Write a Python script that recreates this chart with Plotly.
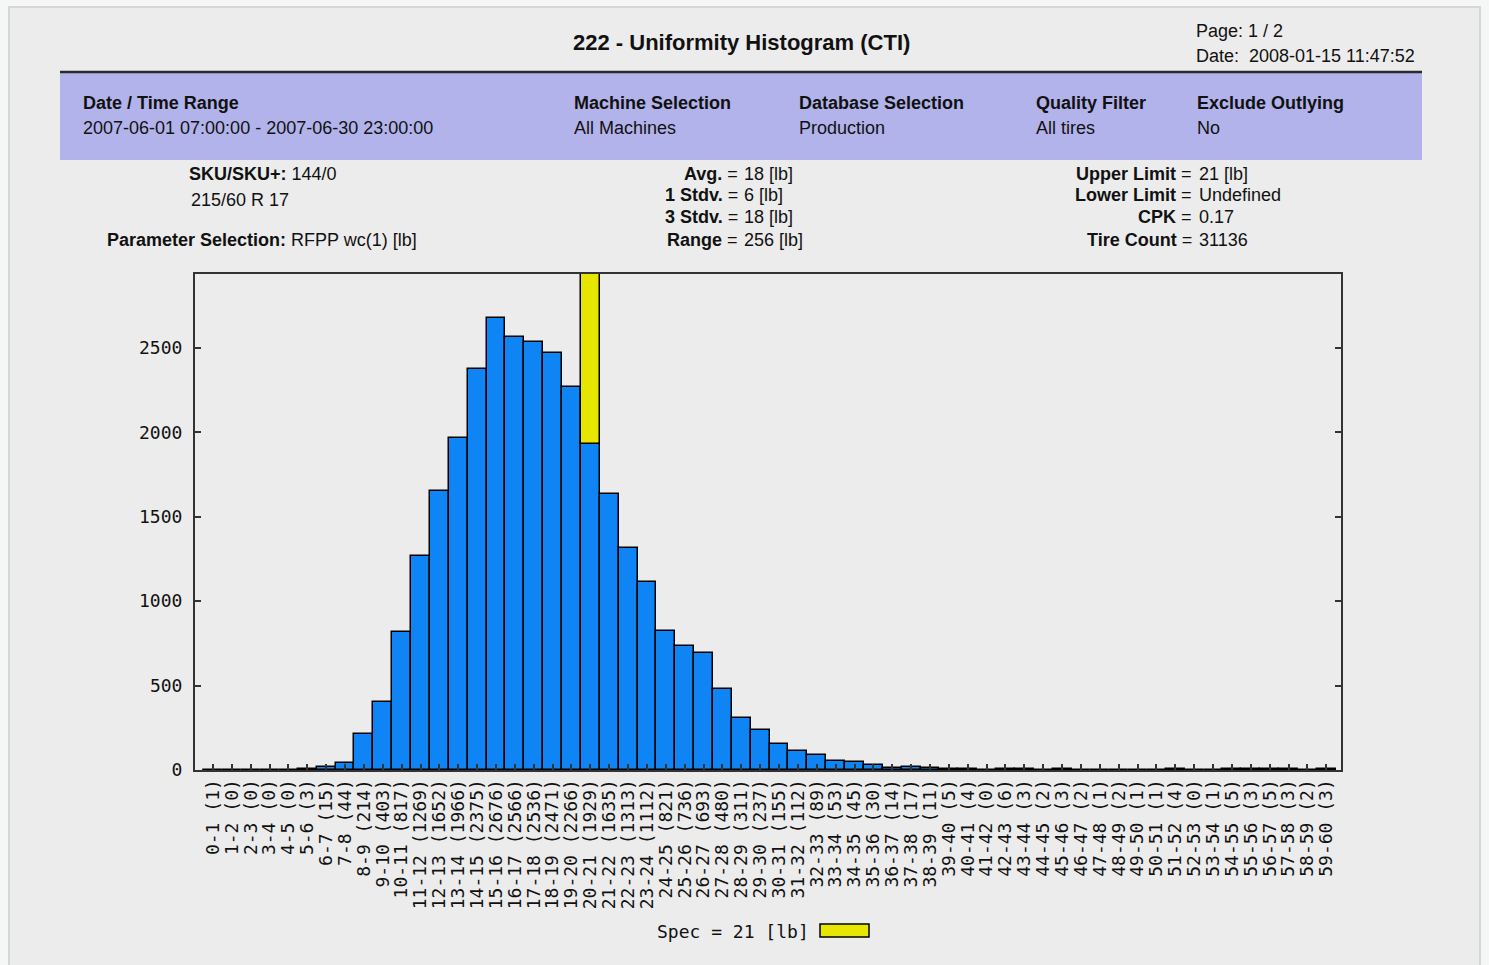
import plotly.graph_objects as go

# ---------------- data ----------------
bin_labels = ["0-1", "1-2", "2-3", "3-4", "4-5", "5-6", "6-7", "7-8", "8-9", "9-10",
              "10-11", "11-12", "12-13", "13-14", "14-15", "15-16", "16-17", "17-18", "18-19", "19-20",
              "20-21", "21-22", "22-23", "23-24", "24-25", "25-26", "26-27", "27-28", "28-29", "29-30",
              "30-31", "31-32", "32-33", "33-34", "34-35", "35-36", "36-37", "37-38", "38-39", "39-40",
              "40-41", "41-42", "42-43", "43-44", "44-45", "45-46", "46-47", "47-48", "48-49", "49-50",
              "50-51", "51-52", "52-53", "53-54", "54-55", "55-56", "56-57", "57-58", "58-59", "59-60"]
counts = [1, 0, 0, 0, 0, 3, 15, 44, 214, 403,
          817, 1269, 1652, 1966, 2375, 2676, 2566, 2536, 2471, 2266,
          1929, 1635, 1313, 1112, 821, 736, 693, 480, 311, 237,
          155, 112, 89, 53, 45, 30, 14, 17, 11, 5,
          4, 0, 6, 3, 2, 3, 2, 1, 2, 1,
          1, 4, 0, 1, 5, 3, 5, 3, 2, 3]
spec_limit = 21           # upper limit [lb]
y_ticks = [0, 500, 1000, 1500, 2000, 2500]
y_max = 2938

categories = [f"{b} ({c})" for b, c in zip(bin_labels, counts)]
spec_idx = spec_limit - 1  # bin "20-21"

# ---------------- geometry helpers (pixel -> paper) ----------------
W, H = 1489, 965
ML, MR, MT, MB = 195, 148, 274, 195
PW, PH = W - ML - MR, H - MT - MB


def px(x):
    return (x - ML) / PW


def py(y):
    return (H - MB - y) / PH


BLUE = "#0F84F4"
YELLOW = "#E6E600"
SANS = "Liberation Sans, Arial, sans-serif"
MONO = "DejaVu Sans Mono, monospace"

fig = go.Figure()
fig.add_trace(go.Bar(
    x=categories, y=counts,
    marker=dict(color=BLUE, line=dict(color="#000000", width=1.5)),
    showlegend=False, hoverinfo="x+y"))
fig.add_trace(go.Bar(
    x=[categories[spec_idx]], y=[y_max - counts[spec_idx]], base=[counts[spec_idx]],
    marker=dict(color=YELLOW, line=dict(color="#000000", width=1.5)),
    showlegend=False, name=f"Spec = {spec_limit} [lb]"))

shapes = [
    # page
    dict(type="rect", xref="paper", yref="paper", x0=px(9), x1=px(1480), y0=py(7), y1=py(980),
         fillcolor="#ECECEC", line=dict(color="#D6D6D6", width=2), layer="below"),
    # header line + lavender box
    dict(type="rect", xref="paper", yref="paper", x0=px(60), x1=px(1422), y0=py(73), y1=py(160),
         fillcolor="#B3B3EC", line=dict(width=0), layer="below"),
    dict(type="line", xref="paper", yref="paper", x0=px(60), x1=px(1422), y0=py(72), y1=py(72),
         line=dict(color="#2A2A2A", width=2.5)),
    # legend swatch
    dict(type="rect", xref="paper", yref="paper", x0=px(820), x1=px(869), y0=py(924), y1=py(937),
         fillcolor=YELLOW, line=dict(color="#000000", width=1.5)),
]

ann = []


def txt(x, y, s, size=18, anchor="left", font=SANS):
    ann.append(dict(x=px(x), y=py(y), xref="paper", yref="paper", text=s, showarrow=False,
                    xanchor=anchor, yanchor="middle",
                    font=dict(family=font, size=size, color="#111111")))


txt(741, 43, "<b>222 - Uniformity Histogram (CTI)</b>", size=22, anchor="center")
txt(1194, 31, "Page: 1 / 2")
txt(1194, 56, "Date:  2008-01-15 11:47:52")

# box contents
box_cols = [(81, "Date / Time Range", "2007-06-01 07:00:00 - 2007-06-30 23:00:00"),
            (572, "Machine Selection", "All Machines"),
            (797, "Database Selection", "Production"),
            (1034, "Quality Filter", "All tires"),
            (1195, "Exclude Outlying", "No")]
for x, head, val in box_cols:
    txt(x, 103, f"<b>{head}</b>")
    txt(x, 128, val)

# left stats
txt(187, 174, "<b>SKU/SKU+:</b> 144/0")
txt(189, 200, "215/60 R 17")
txt(105, 240, "<b>Parameter Selection:</b> RFPP wc(1) [lb]")

# middle stats
mid = [(174, "Avg.", "18 [lb]"), (195, "1 Stdv.", "6 [lb]"),
       (217, "3 Stdv.", "18 [lb]"), (240, "Range", "256 [lb]")]
for y, lab, val in mid:
    txt(740, y, f"<b>{lab}</b> =", anchor="right")
    txt(742, y, val)

# right stats
right = [(174, "Upper Limit", "21 [lb]"), (195, "Lower Limit", "Undefined"),
         (217, "CPK", "0.17"), (240, "Tire Count", "31136")]
for y, lab, val in right:
    txt(1194, y, f"<b>{lab}</b> =", anchor="right")
    txt(1197, y, val)

# legend text
txt(655, 931, f"Spec = {spec_limit} [lb]", size=18, font=MONO)

fig.update_layout(
    width=W, height=H,
    margin=dict(l=ML, r=MR, t=MT, b=MB, pad=0),
    paper_bgcolor="#F5F6F6", plot_bgcolor="#FFFFFF",
    barmode="overlay", bargap=0,
    shapes=shapes, annotations=ann,
    showlegend=False,
    xaxis=dict(type="category", range=[-0.95, 59.78], tickangle=-90,
               tickmode="array", tickvals=categories, ticktext=categories,
               ticks="inside", ticklen=6, tickwidth=1.5, tickcolor="#333333",
               showline=True, linecolor="#333333", linewidth=2, mirror=True,
               showgrid=False, zeroline=False, ticklabelstandoff=0,
               tickfont=dict(family=MONO, size=18, color="#111111")),
    yaxis=dict(range=[0, y_max], tickvals=y_ticks,
               ticks="inside", ticklen=6, tickwidth=1.5, tickcolor="#333333",
               showline=True, linecolor="#333333", linewidth=2, mirror="ticks",
               showgrid=False, zeroline=False, ticklabelstandoff=7,
               tickfont=dict(family=MONO, size=18, color="#111111")),
)

fig.write_html("out.html", config={"displayModeBar": False},
               post_script="document.body.style.margin='0';document.body.style.overflow='hidden';")
